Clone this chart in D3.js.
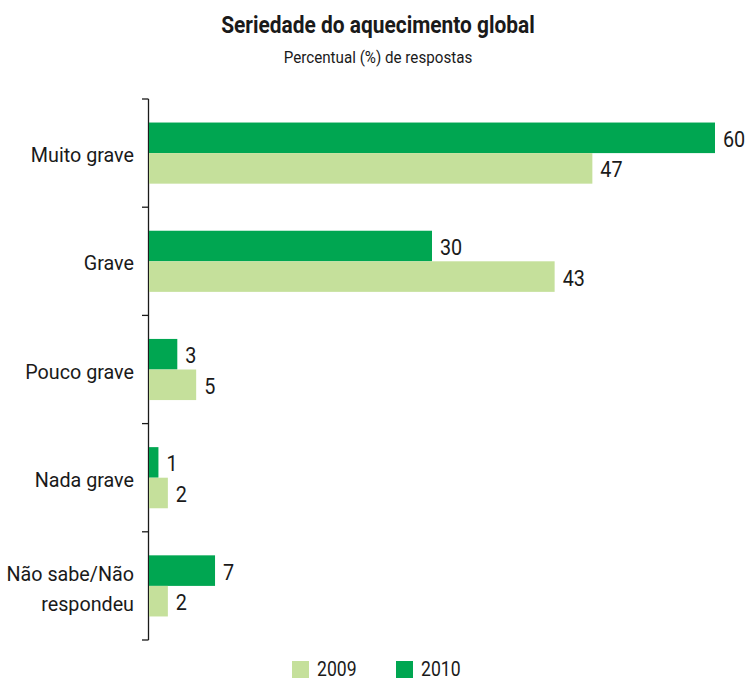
<!DOCTYPE html>
<html>
<head>
<meta charset="utf-8">
<script src="https://cdn.jsdelivr.net/npm/d3@7"></script>
<style>
  body { margin: 0; background: #fff; }
  text { font-family: Roboto, "Noto Sans", sans-serif; fill: #1a1a1a; }
</style>
</head>
<body>
<div id="chart"></div>
<script>
const width = 745;
const height = 681;

// data
const categories = ["Muito grave", "Grave", "Pouco grave", "Nada grave", "Não sabe/Não respondeu"];
const values2010 = [60, 30, 3, 1, 7];
const values2009 = [47, 43, 5, 2, 2];
const seriesNames = ["2009", "2010"];
const colors = { "2009": "#c5e09b", "2010": "#00a651" };

const svg = d3.select("#chart")
    .append("svg")
    .attr("width", width)
    .attr("height", height);

// condensed text: a g placed at (x,y) and squeezed horizontally
function ctext(parent, x, y, size, anchor, k) {
    return parent.append("g")
        .attr("transform", "translate(" + x + "," + y + ") scale(" + (k || 0.92) + ",1)")
        .append("text")
        .attr("text-anchor", anchor || "start")
        .style("font-size", size + "px");
}

// title
ctext(svg, 378, 33, 23.5, "middle", 0.89)
    .style("font-weight", "bold")
    .text("Seriedade do aquecimento global");

ctext(svg, 378, 63, 16.5, "middle", 0.92)
    .text("Percentual (%) de respostas");

// scales
const x = d3.scaleLinear()
    .domain([0, 60])
    .range([149, 715]);

const y = d3.scaleBand()
    .domain(categories)
    .range([99, 640])
    .paddingInner(0.435)
    .paddingOuter(0.2175);

const sub = d3.scaleBand()
    .domain(["2010", "2009"])
    .range([0, y.bandwidth()]);

// axis
const step = y.step();
const tickYs = d3.range(categories.length + 1).map(i => 99 + i * step);

svg.append("line")
    .attr("x1", 148.5).attr("x2", 148.5)
    .attr("y1", 99).attr("y2", 640)
    .attr("stroke", "#1a1a1a")
    .attr("stroke-width", 1.3);

svg.selectAll(".tick-line")
    .data(tickYs)
    .enter()
    .append("line")
        .attr("class", "tick-line")
        .attr("x1", 142).attr("x2", 148.5)
        .attr("y1", d => d).attr("y2", d => d)
        .attr("stroke", "#1a1a1a")
        .attr("stroke-width", 1.3);

// category labels
categories.forEach(c => {
    const cy = y(c) + y.bandwidth() / 2 + 9;
    if (c === "Não sabe/Não respondeu") {
        ctext(svg, 134, cy - 14, 21, "end", 0.94).text("Não sabe/Não");
        ctext(svg, 134, cy + 16, 21, "end", 0.94).text("respondeu");
    } else {
        ctext(svg, 134, cy, 21, "end", 0.94).text(c);
    }
});

// bars
const bars = [];
categories.forEach((c, i) => {
    bars.push({ cat: c, series: "2010", value: values2010[i] });
    bars.push({ cat: c, series: "2009", value: values2009[i] });
});

svg.selectAll(".bar")
    .data(bars)
    .enter()
    .append("rect")
        .attr("class", "bar")
        .attr("x", x(0))
        .attr("y", d => y(d.cat) + sub(d.series))
        .attr("width", d => x(d.value) - x(0))
        .attr("height", sub.bandwidth())
        .attr("fill", d => colors[d.series]);

bars.forEach(d => {
    ctext(svg, x(d.value) + 8, y(d.cat) + sub(d.series) + sub.bandwidth() / 2 + 9, 22, "start", 0.9)
        .text(d.value);
});

// legend
seriesNames.forEach((s, i) => {
    const lx = 292 + i * 104;
    svg.append("rect")
        .attr("x", lx).attr("y", 661)
        .attr("width", 17).attr("height", 17)
        .attr("fill", colors[s]);
    ctext(svg, lx + 25, 676, 20, "start", 0.88).text(s);
});
</script>
</body>
</html>
